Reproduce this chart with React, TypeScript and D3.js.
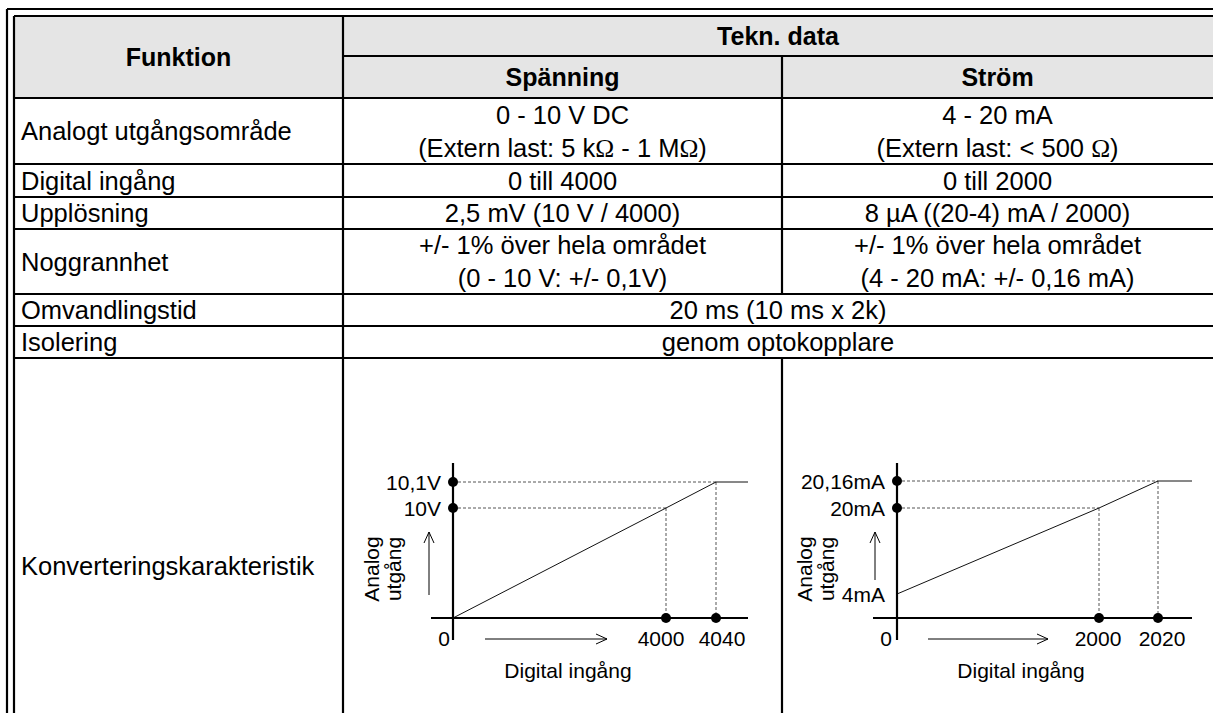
import React from "react";
import * as d3 from "d3";

// ---------- DATA ----------
const headerFunction = "Funktion";
const headerTech = "Tekn. data";
const headerVoltage = "Spänning";
const headerCurrent = "Ström";

const functionLabels = [
  "Analogt utgångsområde",
  "Digital ingång",
  "Upplösning",
  "Noggrannhet",
  "Omvandlingstid",
  "Isolering",
  "Konverteringskarakteristik",
];

const voltageValues: string[][] = [
  ["0 - 10 V DC", "(Extern last: 5 kΩ - 1 MΩ)"],
  ["0 till 4000"],
  ["2,5 mV (10 V / 4000)"],
  ["+/- 1% över hela området", "(0 - 10 V: +/- 0,1V)"],
];
const currentValues: string[][] = [
  ["4 - 20 mA", "(Extern last: < 500 Ω)"],
  ["0 till 2000"],
  ["8 µA ((20-4) mA / 2000)"],
  ["+/- 1% över hela området", "(4 - 20 mA: +/- 0,16 mA)"],
];
const mergedValues = ["20 ms (10 ms x 2k)", "genom optokopplare"];

// Conversion characteristic, voltage
const voltInput = [0, 4000, 4040];
const voltOutput = [0, 10, 10.1];
const voltTickLabels = ["0", "4000", "4040"];
const voltLevelLabels = ["10,1V", "10V"];

// Conversion characteristic, current
const currInput = [0, 2000, 2020];
const currOutput = [4, 20, 20.16];
const currTickLabels = ["0", "2000", "2020"];
const currLevelLabels = ["20,16mA", "20mA", "4mA"];

const axisTitleY = ["Analog", "utgång"];
const axisTitleX = "Digital ingång";

// ---------- LAYOUT ----------
const W = 1213;
const H = 713;
const FONT = "'Liberation Sans', Arial, Helvetica, sans-serif";
const BODY = 25.5;
const BOLD = 25;
const CHART_FS = 21;

const outerL = 7, innerL = 14, outerT = 9, innerT = 16;
const colA = 343, colB = 782, rightEdge = 1220;
const headerMid = 56, headerBottom = 98;
const rowEdges = [98, 164, 197, 229, 294, 326, 358, 780];

const charts = [
  {
    inputs: voltInput, outputs: voltOutput, ticks: voltTickLabels, levels: voltLevelLabels,
    xRange: [453, 666, 716], yDomain: [0, 10, 10.1], yRange: [618, 508, 482],
    axisX0: 431, axisX1: 748, axisY0: 463, axisY1: 640,
    upArrow: [595, 532], upArrowX: 429, titleX: [371, 393], zeroX: 444, xTitleX: 568,
    arrowX: [485, 607], tickShift: [-5, 6],
  },
  {
    inputs: currInput, outputs: currOutput, ticks: currTickLabels, levels: currLevelLabels,
    xRange: [897, 1099, 1158], yDomain: [0, 4, 20, 20.16], yRange: [618, 594, 508, 481],
    axisX0: 873, axisX1: 1192, axisY0: 463, axisY1: 640,
    upArrow: [580, 532], upArrowX: 875, titleX: [804, 826], zeroX: 886, xTitleX: 1021,
    arrowX: [928, 1048], tickShift: [-1, 4],
  },
];

function OmegaText({ x, y, text, anchor = "middle", size = BODY }: any) {
  const parts = text.split("Ω");
  return (
    <text x={x} y={y} textAnchor={anchor} dominantBaseline="central" fontSize={size} fontFamily={FONT} fill="#000">
      {parts.map((p: string, i: number) => (
        <React.Fragment key={i}>
          <tspan>{p}</tspan>
          {i < parts.length - 1 && <tspan fontFamily="'Liberation Serif', 'Times New Roman', serif">Ω</tspan>}
        </React.Fragment>
      ))}
    </text>
  );
}

function Chart({ c }: any) {
  const x = d3.scaleLinear().domain(c.inputs).range(c.xRange);
  const y = d3.scaleLinear().domain(c.yDomain).range(c.yRange);
  const pts: [number, number][] = c.inputs.map((v: number, i: number) => [x(v), y(c.outputs[i])]);
  const last = pts[pts.length - 1];
  const line = d3.line()([...pts, [c.axisX1, last[1]]]);
  const yAxisX = x(0);
  const xAxisY = y(0);
  const topLevels = [c.outputs[2], c.outputs[1]];
  const topInputs = [c.inputs[2], c.inputs[1]];
  const dash = { stroke: "#555", strokeWidth: 1, strokeDasharray: "3,2", fill: "none" };
  const arrowY = xAxisY + 21;
  return (
    <g>
      {topLevels.map((lv: number, i: number) => (
        <g key={"d" + i}>
          <line x1={yAxisX} x2={x(topInputs[i])} y1={y(lv)} y2={y(lv)} {...dash} />
          <line x1={x(topInputs[i])} x2={x(topInputs[i])} y1={y(lv)} y2={xAxisY} {...dash} />
        </g>
      ))}
      <path d={line!} fill="none" stroke="#111" strokeWidth={1} />
      <line x1={c.axisX0} x2={c.axisX1} y1={xAxisY} y2={xAxisY} stroke="#000" strokeWidth={2.2} />
      <line x1={yAxisX} x2={yAxisX} y1={c.axisY0} y2={c.axisY1} stroke="#000" strokeWidth={2.2} />
      {topLevels.map((lv: number, i: number) => (
        <circle key={"c" + i} cx={yAxisX} cy={y(lv)} r={5} fill="#000" />
      ))}
      {topInputs.map((v: number, i: number) => (
        <circle key={"cx" + i} cx={x(v)} cy={xAxisY} r={5} fill="#000" />
      ))}
      {c.levels.map((lab: string, i: number) => (
        <text key={"l" + i} x={yAxisX - 12} y={y(c.outputs[c.outputs.length - 1 - i])} textAnchor="end"
          dominantBaseline="central" fontSize={CHART_FS} fontFamily={FONT} fill="#000">{lab}</text>
      ))}
      <text x={c.zeroX} y={xAxisY + 20} textAnchor="middle" dominantBaseline="central" fontSize={CHART_FS} fontFamily={FONT}>{c.ticks[0]}</text>
      {c.ticks.slice(1).map((t: string, i: number) => (
        <text key={"t" + i} x={x(c.inputs[i + 1]) + c.tickShift[i]} y={xAxisY + 20} textAnchor="middle" dominantBaseline="central"
          fontSize={CHART_FS} fontFamily={FONT}>{t}</text>
      ))}
      {/* right arrow */}
      <line x1={c.arrowX[0]} x2={c.arrowX[1]} y1={arrowY} y2={arrowY} stroke="#000" strokeWidth={1} />
      <path d={`M${c.arrowX[1] - 11},${arrowY - 5}L${c.arrowX[1]},${arrowY}L${c.arrowX[1] - 11},${arrowY + 5}`} fill="none" stroke="#000" strokeWidth={1} />
      {/* up arrow */}
      <line x1={c.upArrowX} x2={c.upArrowX} y1={c.upArrow[0]} y2={c.upArrow[1]} stroke="#000" strokeWidth={1} />
      <path d={`M${c.upArrowX - 5},${c.upArrow[1] + 11}L${c.upArrowX},${c.upArrow[1]}L${c.upArrowX + 5},${c.upArrow[1] + 11}`} fill="none" stroke="#000" strokeWidth={1} />
      <text x={c.xTitleX} y={xAxisY + 52} textAnchor="middle" dominantBaseline="central" fontSize={CHART_FS} fontFamily={FONT}>{axisTitleX}</text>
      {axisTitleY.map((t: string, i: number) => (
        <text key={"a" + i} transform={`translate(${c.titleX[i]},569) rotate(-90)`} textAnchor="middle" dominantBaseline="central"
          fontSize={CHART_FS} fontFamily={FONT}>{t}</text>
      ))}
    </g>
  );
}

export default function App() {
  const midA = (innerL + colA) / 2;
  const midV = (colA + colB) / 2;
  const midC = (colB + 1213) / 2;
  const midM = (colA + 1213) / 2;
  const LW = 2.2;
  return (
    <svg width={W} height={H} style={{ position: "absolute", left: 0, top: 0, background: "#fff" }}>
      <rect x={0} y={0} width={W} height={H} fill="#fff" />
      {/* header background */}
      <rect x={innerL} y={innerT} width={rightEdge - innerL} height={headerBottom - innerT} fill="#e5e5e5" />
      {/* outer double border */}
      <line x1={outerL} x2={outerL} y1={outerT} y2={H + 5} stroke="#000" strokeWidth={LW} />
      <line x1={outerL} x2={rightEdge} y1={outerT} y2={outerT} stroke="#000" strokeWidth={LW} />
      <line x1={innerL} x2={innerL} y1={innerT} y2={H + 5} stroke="#000" strokeWidth={LW} />
      <line x1={innerL} x2={rightEdge} y1={innerT} y2={innerT} stroke="#000" strokeWidth={LW} />
      {/* header lines */}
      <line x1={colA} x2={rightEdge} y1={headerMid} y2={headerMid} stroke="#000" strokeWidth={LW} />
      {rowEdges.slice(0, -1).map((y, i) => (
        <line key={"r" + i} x1={innerL} x2={rightEdge} y1={y} y2={y} stroke="#000" strokeWidth={LW} />
      ))}
      <line x1={colA} x2={colA} y1={innerT} y2={H + 5} stroke="#000" strokeWidth={LW} />
      <line x1={colB} x2={colB} y1={headerMid} y2={rowEdges[4]} stroke="#000" strokeWidth={LW} />
      <line x1={colB} x2={colB} y1={rowEdges[6]} y2={H + 5} stroke="#000" strokeWidth={LW} />

      {/* header text */}
      <text x={midA} y={57} textAnchor="middle" dominantBaseline="central" fontSize={BOLD} fontWeight="bold" fontFamily={FONT}>{headerFunction}</text>
      <text x={midM} y={36} textAnchor="middle" dominantBaseline="central" fontSize={BOLD} fontWeight="bold" fontFamily={FONT}>{headerTech}</text>
      <text x={midV} y={77} textAnchor="middle" dominantBaseline="central" fontSize={BOLD} fontWeight="bold" fontFamily={FONT}>{headerVoltage}</text>
      <text x={midC} y={77} textAnchor="middle" dominantBaseline="central" fontSize={BOLD} fontWeight="bold" fontFamily={FONT}>{headerCurrent}</text>

      {/* function column */}
      {functionLabels.map((lab, i) => {
        const yc = i === 6 ? 566 : (rowEdges[i] + rowEdges[i + 1]) / 2;
        return (
          <text key={"f" + i} x={21} y={yc} dominantBaseline="central" fontSize={BODY} fontFamily={FONT}>{lab}</text>
        );
      })}
      {/* values */}
      {[voltageValues, currentValues].map((vals, k) =>
        vals.map((lines, i) => {
          const yc = (rowEdges[i] + rowEdges[i + 1]) / 2;
          const xc = k === 0 ? midV : midC;
          return lines.map((t, j) => (
            <OmegaText key={`v${k}-${i}-${j}`} x={xc} y={yc + (j - (lines.length - 1) / 2) * 33} text={t} />
          ));
        })
      )}
      {mergedValues.map((t, i) => (
        <text key={"m" + i} x={midM} y={(rowEdges[4 + i] + rowEdges[5 + i]) / 2} textAnchor="middle" dominantBaseline="central"
          fontSize={BODY} fontFamily={FONT}>{t}</text>
      ))}

      {charts.map((c, i) => <Chart key={i} c={c} />)}
    </svg>
  );
}
